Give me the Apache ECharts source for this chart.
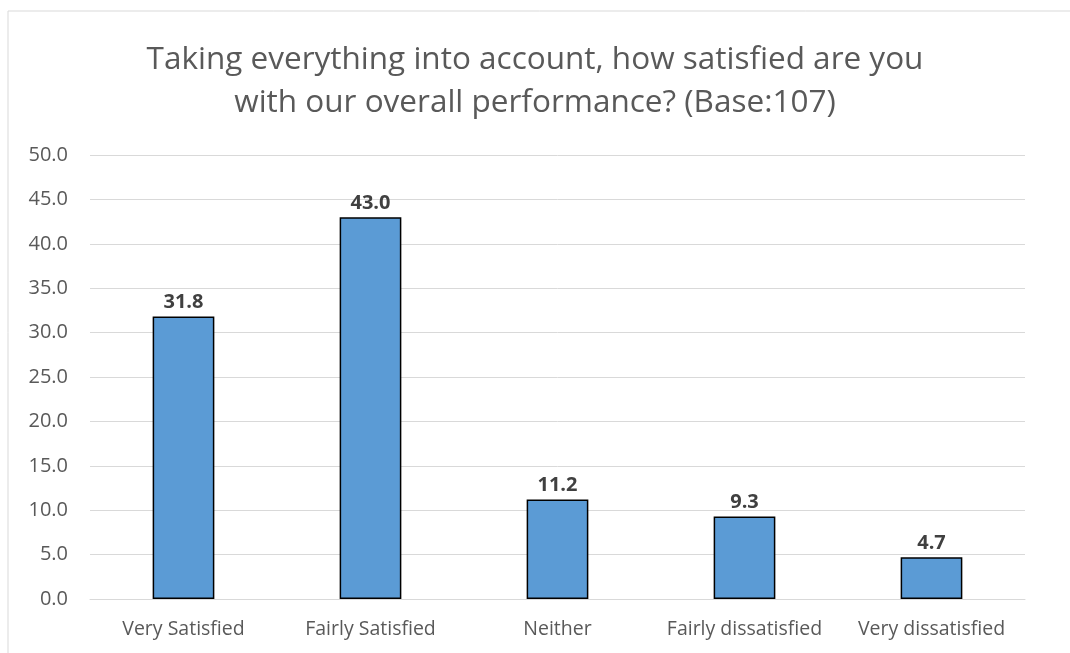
<!DOCTYPE html>
<html><head><meta charset="utf-8">
<script src="https://cdn.jsdelivr.net/npm/echarts@6/dist/echarts.min.js"></script>
<style>html,body{margin:0;padding:0;background:#fff}#c{width:1070px;height:653px}</style>
</head><body><div id="c"></div>
<script>
const categories = ["Very Satisfied","Fairly Satisfied","Neither","Fairly dissatisfied","Very dissatisfied"];
const values = [31.8, 43.0, 11.2, 9.3, 4.7];
const titleText = "Taking everything into account, how satisfied are you\nwith our overall performance? (Base:107)";
const FONT = "Open Sans";
const chart = echarts.init(document.getElementById('c'));
chart.setOption({
  animation:false,
  backgroundColor:'#fff',
  graphic:[{type:'rect',shape:{x:8,y:11,width:1200,height:800},style:{fill:'none',stroke:'#d9d9d9',lineWidth:1},z:-1}],
  title:{text:titleText,left:'center',top:34,textStyle:{fontFamily:FONT,fontSize:31.5,fontWeight:'normal',color:'#595959',lineHeight:43}},
  grid:{left:90,right:45,top:155,bottom:54},
  xAxis:{type:'category',data:categories,axisTick:{show:false},
    axisLine:{lineStyle:{color:'#d9d9d9',width:1}},
    axisLabel:{interval:0,fontFamily:FONT,fontSize:19.5,color:'#595959',margin:20}},
  yAxis:{type:'value',min:0,max:50,interval:5,
    axisLabel:{fontFamily:FONT,fontSize:20,color:'#595959',margin:22,formatter:v=>v.toFixed(1)},
    splitLine:{lineStyle:{color:'#d9d9d9',width:1}},axisLine:{show:false},axisTick:{show:false}},
  series:[{type:'bar',data:values,barWidth:'33%',
    itemStyle:{color:'#5B9BD5',borderColor:'#000',borderWidth:1.5},
    label:{show:true,position:'top',distance:4,fontFamily:FONT,fontSize:20,fontWeight:'bold',color:'#404040',formatter:p=>p.value.toFixed(1)}}]
});
</script></body></html>
